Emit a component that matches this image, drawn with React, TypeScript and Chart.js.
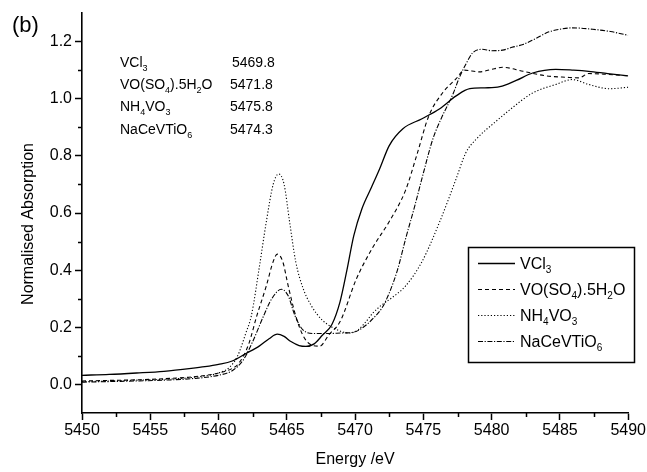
import React, { useEffect, useRef } from "react";
import { Chart, registerables } from "chart.js";

Chart.register(...registerables);

// ---------- Data ----------
const X_TICKS = [5450, 5455, 5460, 5465, 5470, 5475, 5480, 5485, 5490];
const X_MINOR = [5452.5, 5457.5, 5462.5, 5467.5, 5472.5, 5477.5, 5482.5, 5487.5];
const Y_TICKS = [0, 0.2, 0.4, 0.6, 0.8, 1.0, 1.2];
const Y_MINOR = [0.1, 0.3, 0.5, 0.7, 0.9, 1.1];

const vcl3Energy = [5450, 5452, 5454, 5456, 5458, 5459, 5460, 5461, 5462, 5463, 5463.7, 5464.3, 5464.8, 5465.3, 5465.9, 5466.4, 5467, 5467.6, 5468.3, 5468.9, 5469.4, 5469.9, 5470.5, 5471.2, 5471.8, 5472.5, 5473.5, 5474.9, 5476.2, 5477.4, 5478.4, 5479.5, 5480.6, 5481.8, 5483, 5484.7, 5486, 5487.1, 5488.5, 5490];
const vcl3Abs = [0.032, 0.035, 0.040, 0.046, 0.056, 0.062, 0.070, 0.082, 0.108, 0.135, 0.160, 0.176, 0.168, 0.150, 0.136, 0.133, 0.142, 0.172, 0.21, 0.29, 0.40, 0.52, 0.615, 0.69, 0.755, 0.836, 0.895, 0.93, 0.965, 1.01, 1.035, 1.038, 1.042, 1.064, 1.09, 1.103, 1.10, 1.096, 1.088, 1.08];

const voso4Energy = [5450, 5452, 5454, 5456, 5458, 5460, 5461, 5461.5, 5462.2, 5462.8, 5463.5, 5464, 5464.3, 5464.7, 5465.1, 5465.65, 5466.2, 5466.8, 5467.4, 5468.1, 5468.9, 5470.1, 5471.3, 5472.5, 5473.7, 5474.5, 5475.4, 5476.4, 5477.4, 5478, 5479.1, 5480.2, 5480.8, 5482.3, 5484, 5485.5, 5486.4, 5487.1, 5488.5, 5490];
const voso4Abs = [0.012, 0.014, 0.016, 0.020, 0.026, 0.040, 0.056, 0.075, 0.14, 0.24, 0.345, 0.43, 0.456, 0.43, 0.345, 0.24, 0.17, 0.138, 0.134, 0.175, 0.22, 0.37, 0.48, 0.57, 0.68, 0.80, 0.94, 1.02, 1.07, 1.10, 1.094, 1.105, 1.11, 1.096, 1.08, 1.075, 1.073, 1.088, 1.085, 1.08];

const nh4vo3Energy = [5450, 5452, 5454, 5456, 5458, 5460, 5460.8, 5461.4, 5462, 5462.4, 5463, 5463.5, 5464, 5464.4, 5464.8, 5465.2, 5465.65, 5466.2, 5466.8, 5467.6, 5468.9, 5469.6, 5470.2, 5470.8, 5471.3, 5472, 5472.6, 5473.7, 5474.9, 5476.2, 5477.4, 5478.1, 5478.9, 5480.3, 5481.3, 5483, 5484.7, 5485.9, 5487.1, 5488.6, 5490];
const nh4vo3Abs = [0.010, 0.012, 0.015, 0.018, 0.024, 0.040, 0.06, 0.10, 0.18, 0.24, 0.415, 0.57, 0.70, 0.737, 0.70, 0.57, 0.43, 0.335, 0.275, 0.225, 0.187, 0.18, 0.19, 0.22, 0.25, 0.28, 0.30, 0.345, 0.43, 0.57, 0.72, 0.81, 0.86, 0.92, 0.96, 1.02, 1.05, 1.067, 1.05, 1.035, 1.04];

const nacevEnergy = [5450, 5452, 5454, 5456, 5458, 5460, 5461, 5461.8, 5462.5, 5463.3, 5463.9, 5464.6, 5465.1, 5465.6, 5466.2, 5467, 5468, 5469, 5469.9, 5470.6, 5471.3, 5472, 5472.5, 5473.1, 5473.7, 5474.4, 5475, 5475.7, 5476.3, 5477.2, 5477.6, 5478.1, 5478.6, 5479.3, 5480, 5480.8, 5481.5, 5482.3, 5483.2, 5484.2, 5485, 5485.9, 5487.4, 5488.7, 5490];
const nacevAbs = [0.008, 0.010, 0.012, 0.015, 0.020, 0.032, 0.048, 0.085, 0.15, 0.24, 0.30, 0.333, 0.31, 0.24, 0.19, 0.178, 0.178, 0.18, 0.183, 0.20, 0.23, 0.27, 0.32, 0.40, 0.51, 0.63, 0.74, 0.86, 0.93, 1.02, 1.07, 1.12, 1.16, 1.173, 1.168, 1.17, 1.18, 1.19, 1.21, 1.234, 1.243, 1.248, 1.243, 1.235, 1.222];

// Names as text segments: [text, isSubscript]
type Seg = [string, boolean];
const NAME_VCL3: Seg[] = [["VCl", false], ["3", true]];
const NAME_VOSO4: Seg[] = [["VO(SO", false], ["4", true], [").5H", false], ["2", true], ["O", false]];
const NAME_NH4VO3: Seg[] = [["NH", false], ["4", true], ["VO", false], ["3", true]];
const NAME_NACEV: Seg[] = [["NaCeVTiO", false], ["6", true]];
const SERIES_NAMES = [NAME_VCL3, NAME_VOSO4, NAME_NH4VO3, NAME_NACEV];
const EDGE_POSITIONS = ["5469.8", "5471.8", "5475.8", "5474.3"];

const DASHES: number[][] = [[], [4, 3], [1.2, 2], [5, 1.6, 1.2, 1.6]];
const WIDTHS = [1.3, 1.1, 1.1, 1.1];

const FONT = "'Liberation Sans', Arial, Helvetica, sans-serif";

function zip(xs: number[], ys: number[]) {
  return xs.map((x, i) => ({ x, y: ys[i] }));
}

function drawSegs(ctx: CanvasRenderingContext2D, segs: Seg[], x: number, y: number, size: number) {
  let cx = x;
  ctx.textAlign = "left";
  ctx.textBaseline = "alphabetic";
  for (const [t, sub] of segs) {
    const fs = sub ? Math.round(size * 0.62) : size;
    ctx.font = `${fs}px ${FONT}`;
    ctx.fillText(t, cx, sub ? y + size * 0.28 : y);
    cx += ctx.measureText(t).width;
  }
}

const overlayPlugin = {
  id: "overlay",
  afterDraw(chart: any) {
    const ctx: CanvasRenderingContext2D = chart.ctx;
    const { left, right, top, bottom } = chart.chartArea;
    const xs = chart.scales.x;
    const ys = chart.scales.y;
    ctx.save();
    ctx.strokeStyle = "#000";
    ctx.fillStyle = "#000";
    ctx.lineWidth = 1.5;
    ctx.setLineDash([]);
    // minor ticks
    ctx.beginPath();
    for (const v of X_MINOR) {
      const px = Math.round(xs.getPixelForValue(v)) + 0.5;
      ctx.moveTo(px, bottom);
      ctx.lineTo(px, bottom + 4);
    }
    for (const v of Y_MINOR) {
      const py = Math.round(ys.getPixelForValue(v)) + 0.5;
      ctx.moveTo(left, py);
      ctx.lineTo(left - 4, py);
    }
    ctx.stroke();

    // axis titles
    ctx.font = `16px ${FONT}`;
    ctx.textAlign = "center";
    ctx.textBaseline = "middle";
    ctx.fillText("Energy /eV", (left + right) / 2, 460);
    ctx.save();
    ctx.translate(29, (top + bottom) / 2 + 11);
    ctx.rotate(-Math.PI / 2);
    ctx.fillText("Normalised Absorption", 0, 0);
    ctx.restore();

    // panel label
    ctx.font = `22px ${FONT}`;
    ctx.textAlign = "left";
    ctx.textBaseline = "alphabetic";
    ctx.fillText("(b)", 12, 32);

    // annotation table
    SERIES_NAMES.forEach((segs, i) => {
      const by = 67 + i * 22.2;
      drawSegs(ctx, segs, 120, by, 14);
      ctx.font = `14px ${FONT}`;
      ctx.textAlign = "left";
      ctx.fillText(EDGE_POSITIONS[i], i === 0 ? 232 : 230, by);
    });

    // legend
    const bx = 468.5, by0 = 247.5, bw = 166, bh = 115;
    ctx.lineWidth = 1.5;
    ctx.setLineDash([]);
    ctx.strokeRect(bx, by0, bw, bh);
    SERIES_NAMES.forEach((segs, i) => {
      const cy = 263 + i * 26;
      ctx.save();
      ctx.lineWidth = WIDTHS[i];
      ctx.setLineDash(DASHES[i]);
      ctx.beginPath();
      ctx.moveTo(478, cy + 0.5);
      ctx.lineTo(515, cy + 0.5);
      ctx.stroke();
      ctx.restore();
      drawSegs(ctx, segs, 520, cy + 6, 16);
    });
    ctx.restore();
  },
};

export default function App() {
  const ref = useRef<HTMLCanvasElement | null>(null);
  useEffect(() => {
    document.body.style.margin = "0";
    const canvas = ref.current;
    if (!canvas) return;
    const datasets = [
      zip(vcl3Energy, vcl3Abs),
      zip(voso4Energy, voso4Abs),
      zip(nh4vo3Energy, nh4vo3Abs),
      zip(nacevEnergy, nacevAbs),
    ].map((data, i) => ({
      label: SERIES_NAMES[i].map((s) => s[0]).join(""),
      data,
      borderColor: "#000",
      backgroundColor: "#000",
      borderWidth: WIDTHS[i],
      borderDash: DASHES[i],
      pointRadius: 0,
      fill: false,
      cubicInterpolationMode: "monotone" as const,
    }));
    const chart = new Chart(canvas, {
      type: "line",
      data: { datasets },
      options: {
        responsive: false,
        animation: false,
        devicePixelRatio: 1,
        layout: { padding: { top: 13, right: 18, left: 0, bottom: 0 } },
        plugins: { legend: { display: false }, tooltip: { enabled: false }, title: { display: false } },
        scales: {
          x: {
            type: "linear",
            min: 5450,
            max: 5490,
            afterBuildTicks: (scale: any) => {
              scale.ticks = X_TICKS.map((v) => ({ value: v }));
            },
            afterFit: (scale: any) => {
              scale.height = 59;
            },
            ticks: {
              color: "#000",
              font: { family: FONT, size: 16 },
              padding: 1,
              maxRotation: 0,
              autoSkip: false,
              callback: (v: any) => String(v),
            },
            grid: { display: true, drawOnChartArea: false, drawTicks: true, tickLength: 7, tickColor: "#000", tickWidth: 1.5 },
            border: { display: true, color: "#000", width: 1.6 },
          },
          y: {
            type: "linear",
            min: -0.1,
            max: 1.3,
            afterBuildTicks: (scale: any) => {
              scale.ticks = Y_TICKS.map((v) => ({ value: v }));
            },
            afterFit: (scale: any) => {
              scale.width = 82;
            },
            ticks: {
              color: "#000",
              font: { family: FONT, size: 16 },
              padding: 3,
              autoSkip: false,
              callback: (v: any) => Number(v).toFixed(1),
            },
            grid: { display: true, drawOnChartArea: false, drawTicks: true, tickLength: 7, tickColor: "#000", tickWidth: 1.5 },
            border: { display: true, color: "#000", width: 1.6 },
          },
        },
      },
      plugins: [overlayPlugin],
    });
    return () => chart.destroy();
  }, []);
  return (
    <div style={{ position: "absolute", left: 0, top: 0, width: 647, height: 472, background: "#fff" }}>
      <canvas ref={ref} width={647} height={472} style={{ display: "block" }} />
    </div>
  );
}
